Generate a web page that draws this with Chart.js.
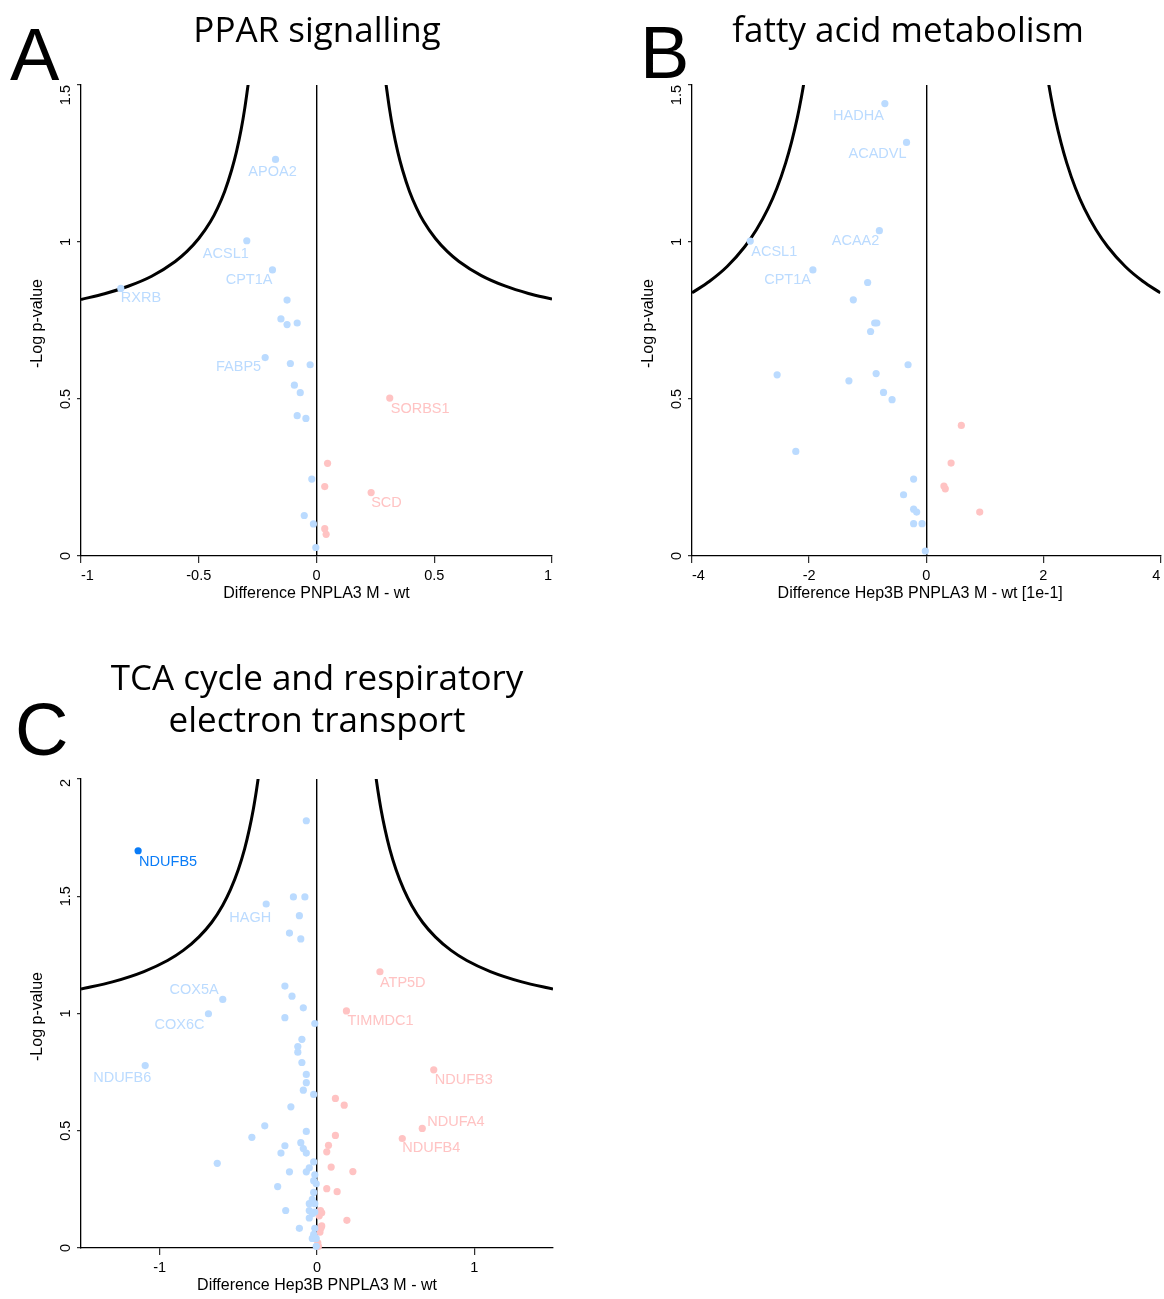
<!DOCTYPE html>
<html>
<head>
<meta charset="utf-8">
<script src="https://cdn.jsdelivr.net/npm/chart.js@4"></script>
<style>
  body { margin: 0; background: #fff; width: 1164px; height: 1299px; position: relative; overflow: hidden; }
  canvas { position: absolute; }
</style>
</head>
<body>
<canvas id="pparChart" width="580" height="620" style="left:0;top:0"></canvas>
<canvas id="fattyChart" width="554" height="620" style="left:610px;top:0"></canvas>
<canvas id="tcaChart" width="580" height="659" style="left:0;top:640px"></canvas>
<script>
// ---- A: PPAR signalling ----
var pparBlueDiff = [-0.174, -0.296, -0.187, -0.831, -0.218, -0.125, -0.151, -0.125, -0.082, -0.111, -0.027, -0.094, -0.069, -0.082, -0.045, -0.020, -0.052, -0.013, -0.003];
var pparBlueLogP = [1.263, 1.004, 0.911, 0.852, 0.632, 0.815, 0.755, 0.737, 0.742, 0.613, 0.609, 0.544, 0.520, 0.447, 0.438, 0.245, 0.129, 0.102, 0.027];
var pparBlueGene = ["APOA2", "ACSL1", "CPT1A", "RXRB", "FABP5"];
var pparRedDiff = [0.311, 0.232, 0.047, 0.035, 0.035, 0.041];
var pparRedLogP = [0.503, 0.202, 0.295, 0.221, 0.087, 0.069];
var pparRedGene = ["SORBS1", "SCD"];
var pparCurveLeftX = [-1.0, -0.9, -0.8, -0.7, -0.6, -0.55, -0.5, -0.45, -0.42, -0.39, -0.36, -0.34, -0.32, -0.305, -0.29];
var pparCurveLeftY = [0.817, 0.835, 0.859, 0.891, 0.938, 0.970, 1.011, 1.065, 1.108, 1.161, 1.230, 1.287, 1.358, 1.424, 1.503];
var pparCurveRightX = [0.294, 0.31, 0.325, 0.345, 0.365, 0.395, 0.425, 0.455, 0.505, 0.555, 0.605, 0.7, 0.8, 0.9, 1.0];
var pparCurveRightY = [1.509, 1.424, 1.358, 1.287, 1.230, 1.161, 1.108, 1.065, 1.011, 0.970, 0.938, 0.893, 0.860, 0.836, 0.818];
var pparXTicks = [-1, -0.5, 0, 0.5, 1];
var pparYTicks = [0, 0.5, 1, 1.5];

// ---- B: fatty acid metabolism ----
var fattyBlueDiff = [-0.706, -0.336, -0.800, -3.005, -1.935, -1.0, -1.245, -0.88, -0.843, -0.95, -0.31, -2.546, -0.855, -1.32, -0.729, -0.583, -2.227, -0.215, -0.387, -0.215, -0.163, -0.215, -0.071, -0.015];
var fattyBlueLogP = [1.441, 1.317, 1.036, 1.003, 0.911, 0.871, 0.816, 0.742, 0.742, 0.715, 0.609, 0.577, 0.581, 0.558, 0.521, 0.498, 0.333, 0.245, 0.195, 0.149, 0.140, 0.103, 0.103, 0.016];
var fattyBlueGene = ["HADHA", "ACADVL", "ACAA2", "ACSL1", "CPT1A"];
var fattyRedDiff = [0.600, 0.425, 0.303, 0.326, 0.914];
var fattyRedLogP = [0.416, 0.296, 0.223, 0.214, 0.140];
var fattyCurveLeftX = [-4.0, -3.7, -3.4, -3.1, -2.9, -2.7, -2.55, -2.4, -2.3, -2.2, -2.14, -2.08];
var fattyCurveLeftY = [0.838, 0.875, 0.922, 0.985, 1.039, 1.107, 1.171, 1.252, 1.318, 1.397, 1.453, 1.516];
var fattyCurveRightX = [2.08, 2.14, 2.2, 2.3, 2.4, 2.55, 2.7, 2.9, 3.1, 3.4, 3.7, 4.0];
var fattyCurveRightY = [1.516, 1.453, 1.397, 1.318, 1.252, 1.171, 1.107, 1.039, 0.985, 0.922, 0.875, 0.838];
var fattyXTicks = [-4, -2, 0, 2, 4];
var fattyYTicks = [0, 0.5, 1, 1.5];

// ---- C: TCA cycle and respiratory electron transport ----
var tcaHitDiff = [-1.137];
var tcaHitLogP = [1.694];
var tcaHitGene = ["NDUFB5"];
var tcaBlueDiff = [-0.323, -0.599, -0.690, -1.092,
  -0.068, -0.150, -0.077, -0.112, -0.175, -0.103, -0.204, -0.159, -0.087, -0.204, -0.014, -0.096, -0.122, -0.122, -0.096, -0.068, -0.068, -0.087, -0.021, -0.166, -0.332, -0.068, -0.414, -0.103, -0.204, -0.087, -0.068, -0.229, -0.021, -0.634, -0.049, -0.068, -0.175, -0.014, -0.021, -0.005, -0.250, -0.021, -0.030, -0.049, -0.014, -0.199, -0.049, -0.014, -0.030, -0.049, -0.112, -0.014, -0.021, -0.030, -0.005, -0.005];
var tcaBlueLogP = [1.467, 1.060, 0.999, 0.778,
  1.822, 1.497, 1.497, 1.417, 1.343, 1.318, 1.117, 1.074, 1.024, 0.982, 0.957, 0.890, 0.859, 0.835, 0.791, 0.740, 0.705, 0.673, 0.655, 0.602, 0.521, 0.497, 0.472, 0.449, 0.436, 0.424, 0.405, 0.405, 0.367, 0.361, 0.342, 0.325, 0.325, 0.312, 0.287, 0.274, 0.262, 0.237, 0.207, 0.189, 0.189, 0.160, 0.160, 0.153, 0.146, 0.128, 0.084, 0.084, 0.058, 0.041, 0.041, 0.007];
var tcaBlueGene = ["HAGH", "COX5A", "COX6C", "NDUFB6"];
var tcaRedDiff = [0.400, 0.187, 0.742, 0.669, 0.542,
  0.117, 0.173, 0.117, 0.073, 0.062, 0.090, 0.228, 0.062, 0.128, 0.030, 0.014, 0.190, 0.030, 0.019, 0.005, 0.009, 0.022, 0.025];
var tcaRedLogP = [1.178, 1.011, 0.760, 0.510, 0.467,
  0.638, 0.609, 0.480, 0.438, 0.410, 0.345, 0.326, 0.253, 0.240, 0.150, 0.137, 0.118, 0.094, 0.068, 0.022, 0.007, 0.160, 0.085];
var tcaRedGene = ["ATP5D", "TIMMDC1", "NDUFB3", "NDUFA4", "NDUFB4"];
var tcaCurveLeftX = [-1.5, -1.3, -1.1, -0.95, -0.85, -0.75, -0.67, -0.6, -0.55, -0.5, -0.46, -0.43, -0.405, -0.385, -0.37];
var tcaCurveLeftY = [1.104, 1.135, 1.179, 1.226, 1.269, 1.327, 1.388, 1.461, 1.528, 1.614, 1.702, 1.786, 1.870, 1.951, 2.020];
var tcaCurveRightX = [0.372, 0.387, 0.407, 0.432, 0.462, 0.502, 0.552, 0.602, 0.672, 0.752, 0.852, 0.952, 1.102, 1.302, 1.5];
var tcaCurveRightY = [2.020, 1.951, 1.870, 1.786, 1.702, 1.614, 1.528, 1.461, 1.388, 1.327, 1.269, 1.226, 1.179, 1.135, 1.104];
var tcaXTicks = [-1, 0, 1];
var tcaYTicks = [0, 0.5, 1, 1.5, 2];

var lightBlue = "#BBDBFF";
var lightRed = "#FFC3C3";
var darkBlue = "#0A7CF7";
var tickFont = '14.5px "Liberation Sans", Arial, sans-serif';

function pts(xs, ys) {
  return xs.map(function (v, i) { return { x: v, y: ys[i] }; });
}

function dots(xs, ys, color, genes) {
  return { data: pts(xs, ys), genes: genes || [], backgroundColor: color, pointRadius: 3.6, pointBorderWidth: 0, pointHoverRadius: 3.6, clip: 5, order: 1 };
}

function curve(xs, ys) {
  return { data: pts(xs, ys), showLine: true, borderColor: "#000", borderWidth: 3, pointRadius: 0, cubicInterpolationMode: "monotone", fill: false, order: 2 };
}

var volcanoText = {
  id: "volcanoText",
  afterDraw: function (chart, args, o) {
    var ctx = chart.ctx, a = chart.chartArea, x = chart.scales.x, y = chart.scales.y;
    ctx.save();
    ctx.fillStyle = "#000";
    ctx.font = tickFont;
    ctx.textBaseline = "middle";
    x.ticks.forEach(function (t) {
      ctx.textAlign = t.value === x.min ? "left" : (t.value === x.max ? "right" : "center");
      ctx.fillText(String(t.value), x.getPixelForValue(t.value), a.bottom + 19.5);
    });
    y.ticks.forEach(function (t) {
      ctx.save();
      ctx.translate(a.left - 15, y.getPixelForValue(t.value));
      ctx.rotate(-Math.PI / 2);
      ctx.textAlign = t.value === y.max ? "right" : "center";
      ctx.fillText(String(t.value), 0, 0);
      ctx.restore();
    });

    ctx.font = '16px "Liberation Sans", Arial, sans-serif';
    ctx.textAlign = "center";
    ctx.fillText(o.xTitle, (a.left + a.right) / 2 + (o.xTitleDx || 0), a.bottom + 38);
    ctx.save();
    ctx.translate(a.left - 43, (a.top + a.bottom) / 2 + 3);
    ctx.rotate(-Math.PI / 2);
    ctx.fillText(o.yTitle, 0, 0);
    ctx.restore();

    ctx.textBaseline = "alphabetic";
    ctx.font = '35px "Open Sans", "Noto Sans", sans-serif';
    o.heading.forEach(function (line, i) {
      ctx.fillText(line, o.headingX, o.headingY + i * 42);
    });
    ctx.font = '74px "Liberation Sans", Arial, sans-serif';
    ctx.textAlign = "left";
    ctx.fillText(o.letter, o.letterX, o.letterY);

    // gene names next to their points
    ctx.font = '14.5px "Liberation Sans", Arial, sans-serif';
    ctx.textBaseline = "middle";
    chart.data.datasets.forEach(function (ds) {
      if (!ds.genes) return;
      ds.genes.forEach(function (g, i) {
        var st = o.labelStyle[g], p = ds.data[i];
        ctx.fillStyle = ds.backgroundColor;
        ctx.textAlign = st[0];
        ctx.fillText(g, x.getPixelForValue(p.x) + st[1], y.getPixelForValue(p.y) + st[2]);
      });
    });
    ctx.restore();
  }
};

function axis(min, max, ticks, tickLength, onArea, fit) {
  return {
    type: "linear", min: min, max: max,
    afterBuildTicks: function (s) { s.ticks = ticks.map(function (v) { return { value: v }; }); },
    afterFit: fit,
    ticks: { display: false },
    grid: {
      drawOnChartArea: onArea,
      color: function (c) { return c.tick && c.tick.value === 0 ? "#000" : "rgba(0,0,0,0)"; },
      lineWidth: 1.4,
      tickColor: "#000",
      tickWidth: 1,
      tickLength: tickLength
    },
    border: { color: "#000", width: 1.3 }
  };
}

function makeChart(id, datasets, c) {
  return new Chart(document.getElementById(id), {
    type: "scatter",
    data: { datasets: datasets },
    options: {
      responsive: false,
      animation: false,
      events: [],
      layout: { padding: c.padding },
      plugins: { legend: { display: false }, tooltip: { enabled: false }, volcanoText: c.text },
      scales: {
        x: axis(c.xMin, c.xMax, c.xTicks, 7, true, function (s) { s.height = c.xHeight; }),
        y: axis(c.yMin, c.yMax, c.yTicks, 4, false, function (s) { s.width = c.yWidth; })
      }
    },
    plugins: [volcanoText]
  });
}

makeChart("pparChart", [
  dots(pparBlueDiff, pparBlueLogP, lightBlue, pparBlueGene),
  dots(pparRedDiff, pparRedLogP, lightRed, pparRedGene),
  curve(pparCurveLeftX, pparCurveLeftY),
  curve(pparCurveRightX, pparCurveRightY)
], {
  padding: { top: 85, right: 28, left: 0, bottom: 0 },
  xMin: -1, xMax: 1, yMin: 0, yMax: 1.5, xTicks: pparXTicks, yTicks: pparYTicks,
  xHeight: 64, yWidth: 81,
  text: {
    xTitle: "Difference PNPLA3 M - wt", yTitle: "-Log p-value",
    heading: ["PPAR signalling"], headingX: 317, headingY: 42,
    letter: "A", letterX: 10, letterY: 80,
    labelStyle: {
      APOA2: ["center", -3, 13], ACSL1: ["right", 2, 13], CPT1A: ["right", 0, 10],
      RXRB: ["left", 0, 10], FABP5: ["right", -4, 9], SORBS1: ["left", 1, 11], SCD: ["left", 0, 10]
    }
  }
});

makeChart("fattyChart", [
  dots(fattyBlueDiff, fattyBlueLogP, lightBlue, fattyBlueGene),
  dots(fattyRedDiff, fattyRedLogP, lightRed),
  curve(fattyCurveLeftX, fattyCurveLeftY),
  curve(fattyCurveRightX, fattyCurveRightY)
], {
  padding: { top: 85, right: 0, left: 0, bottom: 0 },
  xMin: -4, xMax: 4, yMin: 0, yMax: 1.5, xTicks: fattyXTicks, yTicks: fattyYTicks,
  xHeight: 64, yWidth: 82,
  text: {
    xTitle: "Difference Hep3B PNPLA3 M - wt [1e-1]", xTitleDx: -6, yTitle: "-Log p-value",
    heading: ["fatty acid metabolism"], headingX: 298, headingY: 42,
    letter: "B", letterX: 30, letterY: 78,
    labelStyle: {
      HADHA: ["right", -1, 12], ACADVL: ["right", 0, 12], ACAA2: ["right", 0, 10],
      ACSL1: ["left", 1, 11], CPT1A: ["right", -2, 10]
    }
  }
});

makeChart("tcaChart", [
  dots(tcaHitDiff, tcaHitLogP, darkBlue, tcaHitGene),
  dots(tcaBlueDiff, tcaBlueLogP, lightBlue, tcaBlueGene),
  dots(tcaRedDiff, tcaRedLogP, lightRed, tcaRedGene),
  curve(tcaCurveLeftX, tcaCurveLeftY),
  curve(tcaCurveRightX, tcaCurveRightY)
], {
  padding: { top: 139, right: 27, left: 0, bottom: 0 },
  xMin: -1.5, xMax: 1.5, yMin: 0, yMax: 2, xTicks: tcaXTicks, yTicks: tcaYTicks,
  xHeight: 51, yWidth: 81,
  text: {
    xTitle: "Difference Hep3B PNPLA3 M - wt", yTitle: "-Log p-value",
    heading: ["TCA cycle and respiratory", "electron transport"], headingX: 317, headingY: 50,
    letter: "C", letterX: 15, letterY: 115,
    labelStyle: {
      NDUFB5: ["left", 1, 11], HAGH: ["right", 5, 14], COX5A: ["right", -4, -9],
      COX6C: ["right", -4, 11], NDUFB6: ["right", 6, 12], ATP5D: ["left", 0, 11],
      TIMMDC1: ["left", 1, 10], NDUFB3: ["left", 1, 10], NDUFA4: ["left", 5, -6], NDUFB4: ["left", 0, 10]
    }
  }
});
</script>
</body>
</html>
